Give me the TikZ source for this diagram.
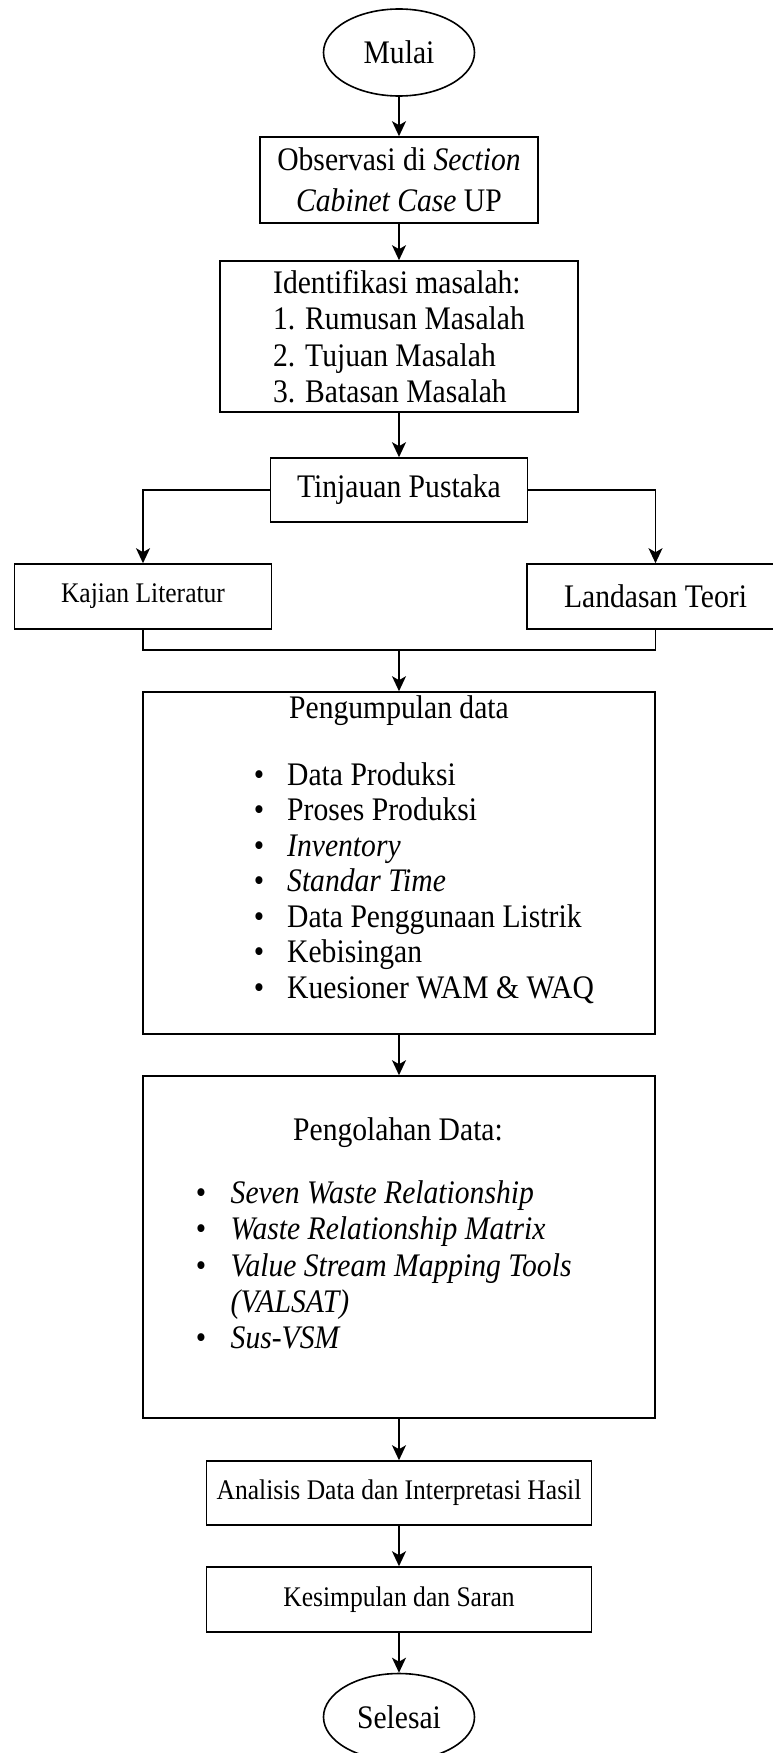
\documentclass[tikz,border=0pt]{standalone}
\usepackage{fontspec}
\setmainfont{Liberation Serif}[FakeStretch=0.9]
\usetikzlibrary{arrows.meta,shapes.geometric}
\newcommand\txtbig{\fontsize{32.9}{36.5}\selectfont}
\newcommand\txtsmall{\fontsize{28.4}{32}\selectfont}
\begin{document}
\begin{tikzpicture}[x=1pt,y=-1pt,
  box/.style={draw, line width=1.6pt, inner sep=0pt, align=center, font=\txtbig},
  term/.style={ellipse, draw, line width=1.6pt, inner sep=0pt,
    minimum width=151pt, minimum height=87pt, font=\txtbig},
  arr/.style={line width=1.6pt, -{Stealth[length=15pt,width=14pt,inset=4pt]}},
  link/.style={line width=1.6pt},
  item/.style={anchor=base west, inner sep=0pt, font=\txtbig},
  dot/.style={anchor=base, inner sep=0pt, font=\txtbig}]
\useasboundingbox (0,0) rectangle (773,1753);

% start / end terminals
\node[term] (mulai) at (399,52.5) {Mulai};
\node[term] (sel) at (399,1717) {Selesai};

% process boxes
\node[box, minimum width=278pt, minimum height=86pt,
      font={\fontsize{32.9}{41}\selectfont}] (obs) at (399,180)
  {Observasi di \textit{Section}\\\textit{Cabinet Case} UP};
\node[box, align=left, minimum width=358pt, minimum height=151pt] (ident) at (399,336.5)
  {Identifikasi masalah:\\1. Rumusan Masalah\\2. Tujuan Masalah\\3. Batasan Masalah};
\node[box, minimum width=257pt, minimum height=64pt] (tinj) at (399,490) {Tinjauan Pustaka};
\node[box, minimum width=257pt, minimum height=65pt, font=\txtsmall] (kaj) at (143,596.5) {Kajian Literatur};
\node[box, minimum width=257pt, minimum height=65pt] (land) at (655.5,596.5) {Landasan Teori};
\node[box, minimum width=512pt, minimum height=342pt] (peng) at (399,863) {};
\node[box, minimum width=512pt, minimum height=342pt] (olah) at (399,1247) {};
\node[box, minimum width=385pt, minimum height=64pt, font=\txtsmall] (anal) at (399,1493)
  {Analisis Data dan Interpretasi Hasil};
\node[box, minimum width=385pt, minimum height=65pt, font=\txtsmall] (kes) at (399,1599.5)
  {Kesimpulan dan Saran};

% data collection contents
\node[dot] (pengtitle) at (399,718) {Pengumpulan data};
\node[dot] (pb1) at (259,785) {\textbullet};
\node[item] (pi1) at (287,785) {Data Produksi};
\node[dot] (pb2) at (259,820.5) {\textbullet};
\node[item] (pi2) at (287,820.5) {Proses Produksi};
\node[dot] (pb3) at (259,856) {\textbullet};
\node[item] (pi3) at (287,856) {\textit{Inventory}};
\node[dot] (pb4) at (259,891.5) {\textbullet};
\node[item] (pi4) at (287,891.5) {\textit{Standar Time}};
\node[dot] (pb5) at (259,927) {\textbullet};
\node[item] (pi5) at (287,927) {Data Penggunaan Listrik};
\node[dot] (pb6) at (259,962.5) {\textbullet};
\node[item] (pi6) at (287,962.5) {Kebisingan};
\node[dot] (pb7) at (259,998) {\textbullet};
\node[item] (pi7) at (287,998) {Kuesioner WAM \& WAQ};

% data processing contents
\node[dot] (olahtitle) at (398,1140) {Pengolahan Data:};
\node[dot] (ob1) at (201,1203) {\textbullet};
\node[item] (oi1) at (230.5,1203) {\textit{Seven Waste Relationship}};
\node[dot] (ob2) at (201,1239.5) {\textbullet};
\node[item] (oi2) at (230.5,1239.5) {\textit{Waste Relationship Matrix}};
\node[dot] (ob3) at (201,1276) {\textbullet};
\node[item] (oi3) at (230.5,1276) {\textit{Value Stream Mapping Tools}};
\node[item] (oi3b) at (230.5,1312) {\textit{(VALSAT)}};
\node[dot] (ob4) at (201,1348) {\textbullet};
\node[item] (oi4) at (230.5,1348) {\textit{Sus-VSM}};

% connectors
\coordinate (join) at (399,650);
\draw[arr] (mulai.south) -- (obs.north);
\draw[arr] (obs.south) -- (ident.north);
\draw[arr] (ident.south) -- (tinj.north);
\draw[arr] (tinj.west) -| (kaj.north);
\draw[arr] (tinj.east) -| (land.north);
\draw[link] (kaj.south) |- (join) -| (land.south);
\draw[arr] (join) -- (peng.north);
\draw[arr] (peng.south) -- (olah.north);
\draw[arr] (olah.south) -- (anal.north);
\draw[arr] (anal.south) -- (kes.north);
\draw[arr] (kes.south) -- (sel.north);
\end{tikzpicture}
\end{document}
